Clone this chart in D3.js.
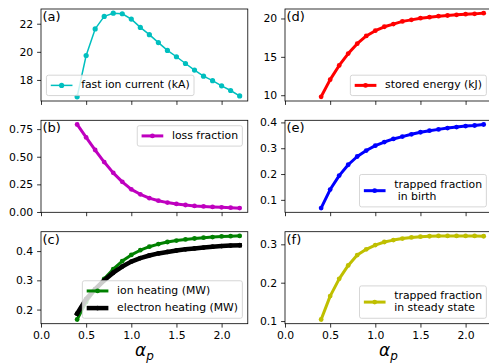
<!DOCTYPE html>
<html><head><meta charset="utf-8">
<script src="https://cdn.jsdelivr.net/npm/d3@7"></script>
<style>body{margin:0;background:#fff}svg{display:block}text{font-family:"DejaVu Sans",sans-serif;fill:#000}</style>
</head><body><svg id="chart" width="489" height="363"></svg>
<script>
// ---------- data ----------
const alphaP = [0.4,0.5,0.6,0.7,0.8,0.9,1.0,1.1,1.2,1.3,1.4,1.5,1.6,1.7,1.8,1.9,2.0,2.1,2.2];
const fastIonCurrent = [16.80,19.74,21.63,22.52,22.75,22.71,22.33,21.74,21.22,20.66,20.10,19.65,19.17,18.70,18.27,17.95,17.58,17.25,16.86];
const lossFraction = [0.792,0.675,0.561,0.452,0.354,0.273,0.205,0.160,0.125,0.102,0.085,0.073,0.063,0.055,0.050,0.046,0.042,0.039,0.035];
const ionHeating = [0.166,0.226,0.268,0.305,0.338,0.366,0.387,0.403,0.415,0.424,0.431,0.436,0.440,0.443,0.446,0.448,0.450,0.451,0.452];
const electronHeating = [0.186,0.236,0.270,0.300,0.326,0.347,0.364,0.376,0.385,0.392,0.397,0.402,0.406,0.409,0.412,0.415,0.417,0.419,0.420];
const storedEnergy = [9.79,12.03,13.88,15.43,16.72,17.72,18.41,18.92,19.27,19.62,19.82,20.04,20.17,20.30,20.39,20.47,20.56,20.60,20.69];
const trappedBirth = [0.068,0.140,0.194,0.236,0.268,0.291,0.310,0.324,0.336,0.345,0.354,0.362,0.368,0.373,0.378,0.382,0.386,0.388,0.392];
const trappedSteady = [0.104,0.165,0.210,0.245,0.272,0.287,0.298,0.306,0.311,0.315,0.318,0.320,0.321,0.322,0.322,0.322,0.322,0.322,0.321];

const xTicks = [0.0,0.5,1.0,1.5,2.0];
const xTickLabels = ["0.0","0.5","1.0","1.5","2.0"];
const yTicksA = [18,20,22];            const yLabelsA = ["18","20","22"];
const yTicksB = [0,0.25,0.5,0.75];     const yLabelsB = ["0.00","0.25","0.50","0.75"];
const yTicksC = [0.2,0.3,0.4];         const yLabelsC = ["0.2","0.3","0.4"];
const yTicksD = [10,15,20];            const yLabelsD = ["10","15","20"];
const yTicksE = [0.1,0.2,0.3,0.4];     const yLabelsE = ["0.1","0.2","0.3","0.4"];
const yTicksF = [0.1,0.2,0.3];         const yLabelsF = ["0.1","0.2","0.3"];
const panelLetters = ["(a)","(b)","(c)","(d)","(e)","(f)"];
const seriesLabels = {
  a:["fast ion current (kA)"], b:["loss fraction"],
  c1:["ion heating (MW)"], c2:["electron heating (MW)"],
  d:["stored energy (kJ)"], e:["trapped fraction"," in birth"], f:["trapped fraction","in steady state"]
};

// ---------- layout ----------
const svg = d3.select("#chart");
const colX = [41, 285];
const rowY = [9, 120.3, 231.7];
const axH = 92;
const FS = 10.85;
const tickLen = 3.9, tickPad = 3.9;

const xMin = 0;
const xExt = d3.extent(alphaP);
const xMax = xExt[1] + 0.05*(xExt[1]-xExt[0]);
const pxPerUnit = 90.3;
const axW = (xMax - xMin) * pxPerUnit;

const panels = [
  {col:0,row:0,letter:panelLetters[0],yt:yTicksA,yl:yLabelsA,loc:"lower left",
   series:[{v:fastIonCurrent,c:"#00bfbf",lw:1.5,r:2.6,label:seriesLabels.a}]},
  {col:0,row:1,letter:panelLetters[1],yt:yTicksB,yl:yLabelsB,loc:"upper right",
   series:[{v:lossFraction,c:"#bf00bf",lw:3,r:2.4,label:seriesLabels.b}]},
  {col:0,row:2,letter:panelLetters[2],yt:yTicksC,yl:yLabelsC,loc:"lower right",
   series:[{v:ionHeating,c:"#008000",lw:3,r:2.4,label:seriesLabels.c1},
           {v:electronHeating,c:"#000000",lw:4.5,r:2.4,label:seriesLabels.c2}]},
  {col:1,row:0,letter:panelLetters[3],yt:yTicksD,yl:yLabelsD,loc:"lower right",
   series:[{v:storedEnergy,c:"#ff0000",lw:3,r:2.4,label:seriesLabels.d}]},
  {col:1,row:1,letter:panelLetters[4],yt:yTicksE,yl:yLabelsE,loc:"lower right",
   series:[{v:trappedBirth,c:"#0000ff",lw:3,r:2.4,label:seriesLabels.e}]},
  {col:1,row:2,letter:panelLetters[5],yt:yTicksF,yl:yLabelsF,loc:"lower right",
   series:[{v:trappedSteady,c:"#bfbf00",lw:3,r:2.4,label:seriesLabels.f}]}
];

panels.forEach(p => {
  const x0 = colX[p.col], y0 = rowY[p.row];
  const x = d3.scaleLinear().domain([xMin, xMax]).range([x0, x0 + axW]);
  const all = p.series.flatMap(s => s.v);
  const [lo, hi] = d3.extent(all);
  const m = 0.05*(hi-lo);
  const y = d3.scaleLinear().domain([lo-m, hi+m]).range([y0 + axH, y0]);
  const g = svg.append("g");

  const cid = "clip" + p.col + p.row;
  svg.append("clipPath").attr("id", cid).append("rect")
    .attr("x", x0).attr("y", y0).attr("width", axW).attr("height", axH);

  const plot = g.append("g").attr("clip-path", `url(#${cid})`);
  p.series.forEach(s => {
    const pts = alphaP.map((a,i) => [a, s.v[i]]);
    plot.append("path").attr("d", d3.line().x(d => x(d[0])).y(d => y(d[1]))(pts))
      .attr("fill","none").attr("stroke", s.c).attr("stroke-width", s.lw)
      .attr("stroke-linejoin","round").attr("stroke-linecap","square");
    plot.selectAll(null).data(pts).enter().append("circle")
      .attr("cx", d => x(d[0])).attr("cy", d => y(d[1])).attr("r", s.r).attr("fill", s.c);
  });

  const xAxis = d3.axisBottom(x).tickValues(xTicks).tickSize(tickLen).tickPadding(tickPad)
    .tickFormat((d,i) => p.row === 2 ? xTickLabels[i] : "");
  const xa = g.append("g").attr("transform", `translate(0,${y0+axH})`).call(xAxis);
  const yAxis = d3.axisLeft(y).tickValues(p.yt).tickSize(tickLen).tickPadding(tickPad)
    .tickFormat((d,i) => p.yl[i]);
  const ya = g.append("g").attr("transform", `translate(${x0},0)`).call(yAxis);
  [xa, ya].forEach(a => {
    a.select(".domain").remove();
    a.selectAll(".tick line").attr("stroke","#000").attr("stroke-width",0.8);
    a.selectAll(".tick text").attr("font-size", FS).attr("fill","#000");
  });

  g.append("rect").attr("x", x0).attr("y", y0).attr("width", axW).attr("height", axH)
    .attr("fill","none").attr("stroke","#000").attr("stroke-width",0.8);

  g.append("text").attr("x", x0 + 1.5).attr("y", y0 + 12).attr("font-size", 13).text(p.letter);

  // legend
  const pad = 0.4*FS, hl = 2*FS, htp = 0.8*FS, ls = 0.5*FS, bap = 0.5*FS;
  const rowH = 11.7, lineH = 12;
  const lg = g.append("g");
  const box = lg.append("rect");
  const rows = p.series.map(s => {
    const tg = lg.append("g");
    const texts = s.label.map(t => tg.append("text").attr("font-size", FS)
      .style("white-space","pre").text(t));
    const w = d3.max(texts, t => t.node().getComputedTextLength());
    const h = rowH + (s.label.length-1)*lineH;
    return {s, tg, texts, w, h};
  });
  const tw = d3.max(rows, r => r.w);
  const bw = pad + hl + htp + tw + pad;
  const bh = 2*pad + d3.sum(rows, r => r.h) + (rows.length-1)*ls;
  let bx, by;
  if (p.loc === "lower left") { bx = x0 + bap; by = y0 + axH - bap - bh; }
  else if (p.loc === "upper right") { bx = x0 + axW - bap - bw; by = y0 + bap; }
  else { bx = x0 + axW - bap - bw; by = y0 + axH - bap - bh; }
  box.attr("x", bx).attr("y", by).attr("width", bw).attr("height", bh).attr("rx", 2)
    .attr("fill","#fff").attr("fill-opacity",0.8).attr("stroke","#cccccc").attr("stroke-width",0.8);
  let cy = by + pad;
  rows.forEach(r => {
    const mid = cy + r.h/2;
    lg.append("line").attr("x1", bx+pad).attr("x2", bx+pad+hl).attr("y1", mid).attr("y2", mid)
      .attr("stroke", r.s.c).attr("stroke-width", r.s.lw);
    lg.append("circle").attr("cx", bx+pad+hl/2).attr("cy", mid).attr("r", r.s.r).attr("fill", r.s.c);
    r.texts.forEach((t,k) => t.attr("x", bx+pad+hl+htp).attr("y", cy + 8.7 + k*lineH));
    r.tg.raise();
    cy += r.h + ls;
  });

  if (p.row === 2) {
    const t = g.append("text").attr("x", x0 + axW/2).attr("y", 356).attr("text-anchor","middle");
    t.append("tspan").attr("font-size", 17).attr("font-style","italic").text("α");
    t.append("tspan").attr("font-size", 12).attr("font-style","italic").attr("dy", 3.5).text("p");
  }
});
</script></body></html>
